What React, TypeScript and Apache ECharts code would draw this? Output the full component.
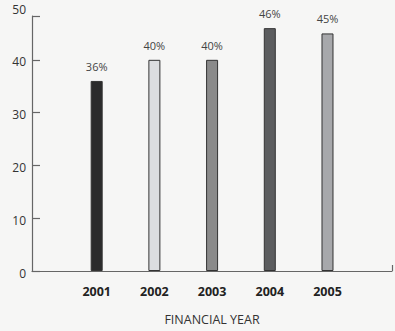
import React, { useEffect, useRef } from "react";
import * as echarts from "echarts";

const years = [2001, 2002, 2003, 2004, 2005];
const values = [36, 40, 40, 46, 45];
const barColors = ["#2b2b2b", "#dcdde0", "#8a8a8a", "#5c5d5f", "#a7a8ab"];
const yTickLabels = ["0", "10", "20", "30", "40", "50"];
const xAxisTitle = "FINANCIAL YEAR";

const FONT = "'Open Sans', 'Noto Sans', sans-serif";

export default function App() {
  const ref = useRef<HTMLDivElement>(null);

  useEffect(() => {
    if (!ref.current) return;
    const chart = echarts.init(ref.current, undefined, { renderer: "svg" });
    const xMin = 1999.879;
    const xMax = 2006.118;
    chart.setOption({
      animation: false,
      backgroundColor: "#f6f6f5",
      grid: { left: 32, right: 3, top: 16, bottom: 59, containLabel: false },
      xAxis: {
        type: "value",
        min: xMin,
        max: xMax,
        name: xAxisTitle,
        nameLocation: "middle",
        nameGap: 42,
        nameTextStyle: { fontFamily: FONT, fontSize: 12.5, color: "#333" },
        axisLine: { show: true, lineStyle: { color: "#666", width: 1.2 } },
        axisTick: {
          show: true,
          inside: true,
          length: 6,
          customValues: [xMax],
          lineStyle: { color: "#666", width: 1.2 },
        },
        axisLabel: {
          customValues: years,
          formatter: (v: number) => String(v),
          fontFamily: FONT,
          fontSize: 12.5,
          fontWeight: "bold",
          color: "#222",
          margin: 14,
        },
        splitLine: { show: false },
      },
      yAxis: {
        type: "value",
        min: 0,
        max: 48.3,
        interval: 10,
        axisLine: { show: true, lineStyle: { color: "#666", width: 1.2 } },
        axisTick: {
          show: true,
          inside: true,
          length: 8,
          lineStyle: { color: "#666", width: 1.2 },
        },
        axisLabel: {
          formatter: (_v: number, i: number) => {
            const t = yTickLabels[i] ?? "";
            return i === yTickLabels.length - 1 ? `{top|${t}}` : `{n|${t}}`;
          },
          rich: {
            n: { fontFamily: FONT, fontSize: 12, color: "#333", padding: [4, 0, 0, 0] },
            top: { fontFamily: FONT, fontSize: 12, color: "#333", padding: [0, 0, 14, 0] },
          },
          fontFamily: FONT,
          fontSize: 12,
          color: "#333",
          margin: 6,
        },
        splitLine: { show: false },
      },
      series: [
        {
          type: "bar",
          barWidth: 12,
          data: years.map((y, i) => ({
            value: [y, values[i]],
            itemStyle: { color: barColors[i] },
          })),
          itemStyle: { borderColor: "#333", borderWidth: 1 },
          label: {
            show: true,
            position: "top",
            distance: 9,
            formatter: (p: any) => p.value[1] + "%",
            fontFamily: FONT,
            fontSize: 11,
            color: "#444",
          },
        },
      ],
    });
    return () => chart.dispose();
  }, []);

  return (
    <div
      ref={ref}
      style={{ position: "absolute", left: 0, top: 0, width: 395, height: 331 }}
    />
  );
}
